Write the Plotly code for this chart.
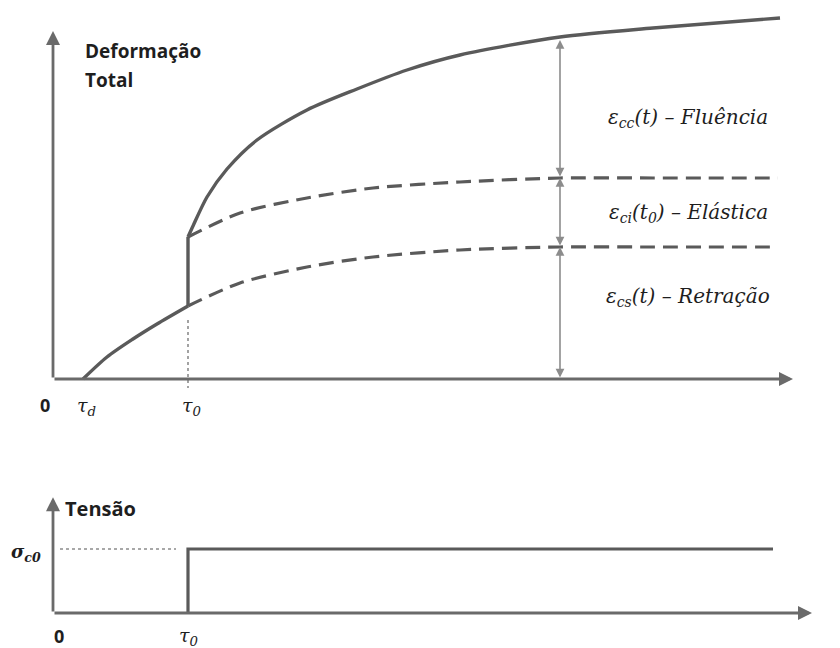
import plotly.graph_objects as go

# ---- Time instants (time axis units) ----
tau_d = 3.0          # start of drying / shrinkage
tau_0 = 13.5         # instant of loading
t_meas = 50.7        # time at which the strain components are indicated
t_axis_end = 74.0
t_axis_end_bottom = 75.9

# ---- Strain curves (top panel) ----
shrink_before_t = [3.0, 5.4, 8.0, 10.4, 13.5]
shrink_before_e = [0.0, 2.2, 4.0, 5.5, 7.3]

total_t = [13.5, 14.0, 15.4, 17.4, 20.4, 25.4, 30.4, 35.4, 40.7, 50.7, 60.0, 72.7]
total_e = [14.2, 15.3, 18.2, 21.0, 23.9, 26.9, 29.0, 30.9, 32.4, 34.2, 35.1, 36.1]

after_t = [13.5, 18.7, 25.4, 32.0, 40.7, 50.7, 60.0, 72.5]
shrink_after_e = [7.3, 9.6, 11.2, 12.2, 12.9, 13.2, 13.2, 13.2]
elastic_shrink_e = [14.2, 16.6, 18.1, 19.1, 19.7, 20.1, 20.1, 20.1]

strain_axis_top = 34.8
arrow_top_e = 33.9

# ---- Stress history (bottom panel) ----
stress_t = [13.5, 13.5, 72.0]
stress_s = [0.0, 1.0, 1.0]
sigma_c0 = 1.0
stress_axis_top = 1.81

LINE = "#5a5a5a"
AXIS = "#6a6a6a"
THIN = "#8c8c8c"
TXT = "#1e1e1e"
SANS = "Open Sans, DejaVu Sans, sans-serif"
SERIF = "DejaVu Serif, Liberation Serif, serif"

fig = go.Figure()

def curve(x, y, yaxis="y", dash="solid", width=3.4, shape="spline", color=LINE):
    fig.add_trace(go.Scatter(
        x=x, y=y, yaxis=yaxis, mode="lines",
        line=dict(color=color, width=width, dash=dash, shape=shape,
                  smoothing=0.8 if shape == "spline" else None),
        hoverinfo="skip", showlegend=False))

# total strain: shrinkage before loading, instantaneous jump, then creep
curve(shrink_before_t, shrink_before_e)
curve([tau_0, tau_0], [shrink_before_e[-1], total_e[0]], shape="linear")
curve(total_t, total_e)
# dashed component boundaries
curve(after_t, shrink_after_e, dash="15px,8px", width=3.2)
curve(after_t, elastic_shrink_e, dash="15px,8px", width=3.2)
# dotted guide at loading time
curve([tau_0, tau_0], [5.9, -0.9], dash="dot", width=1.6, shape="linear", color=THIN)

# bottom panel: step in stress
curve(stress_t, stress_s, yaxis="y2", shape="linear", width=3.2)
curve([0.7, 12.3], [sigma_c0, sigma_c0], yaxis="y2", dash="dot", width=1.6,
      shape="linear", color=THIN)

ann = []

def arrow(x0, y0, x1, y1, yref="y", width=2.8, size=1.0, head=2, color=AXIS, side="end"):
    ann.append(dict(x=x1, y=y1, ax=x0, ay=y0, xref="x", yref=yref,
                    axref="x", ayref=yref, showarrow=True, text="",
                    arrowhead=head, arrowsize=size, arrowwidth=width,
                    arrowcolor=color, arrowside=side, standoff=0, startstandoff=0))

def label(x, y, text, size=16, family=SANS, xanchor="center", yanchor="middle",
          yref="y", color=TXT):
    ann.append(dict(x=x, y=y, xref="x", yref=yref, text=text, showarrow=False,
                    xanchor=xanchor, yanchor=yanchor, align="left",
                    font=dict(family=family, size=size, color=color)))

# axes with arrowheads
arrow(0, 0, 0, strain_axis_top)
arrow(0, 0, t_axis_end, 0)
arrow(0, 0, 0, stress_axis_top, yref="y2")
arrow(0, 0, t_axis_end_bottom, 0, yref="y2")

# double-headed dimension arrows at t_meas
for lo, hi in [(0.0, shrink_after_e[-1]),
               (shrink_after_e[-1], elastic_shrink_e[-1]),
               (elastic_shrink_e[-1], arrow_top_e)]:
    arrow(t_meas, lo, t_meas, hi, width=1.6, size=1.1, head=2, color=THIN,
          side="end+start")

# text
label(3.0, 32.8, "<b>Deformação</b>", size=19, xanchor="left")
label(3.0, 29.9, "<b>Total</b>", size=19, xanchor="left")
label(63.5, 26.1, "<i>ε<sub>cc</sub>(t) – Fluência</i>", size=20, family=SERIF)
label(63.5, 16.6, "<i>ε<sub>ci</sub>(t<sub>0</sub>) – Elástica</i>", size=20, family=SERIF)
label(63.5, 8.2, "<i>ε<sub>cs</sub>(t) – Retração</i>", size=20, family=SERIF)

label(-0.8, -2.6, "<b>0</b>", size=18)
label(tau_d + 0.3, -2.7, "<i>τ<sub>d</sub></i>", size=19, family=SERIF)
label(tau_0 + 0.4, -2.7, "<i>τ<sub>0</sub></i>", size=19, family=SERIF)
label(78.9, -2.6, "<b>Tempo, t</b>", size=17, xanchor="right")

label(1.0, 1.64, "<b>Tensão</b>", size=20, xanchor="left", yref="y2")
label(-2.7, 0.94, "<i><b>σ<sub>c0</sub></b></i>", size=18, family=SERIF, yref="y2")
label(0.6, -0.36, "<b>0</b>", size=18, yref="y2")
label(tau_0 + 0.1, -0.36, "<i>τ<sub>0</sub></i>", size=19, family=SERIF, yref="y2")
label(78.9, -0.36, "<b>Tempo, t</b>", size=17, xanchor="right", yref="y2")

fig.update_layout(
    width=840, height=648, autosize=False,
    margin=dict(l=0, r=0, t=0, b=0, pad=0),
    paper_bgcolor="white", plot_bgcolor="white",
    xaxis=dict(range=[-5.3, 78.7], visible=False, fixedrange=True),
    yaxis=dict(range=[-26.9, 37.9], visible=False, fixedrange=True),
    yaxis2=dict(range=[-0.547, 9.578], overlaying="y", visible=False, fixedrange=True),
    annotations=ann,
    showlegend=False,
)

fig.write_html("out.html")
